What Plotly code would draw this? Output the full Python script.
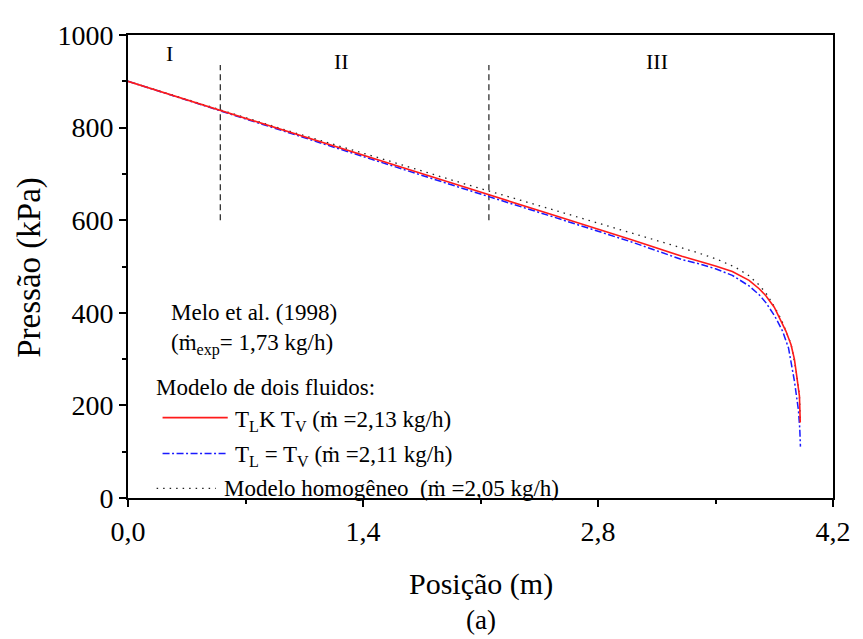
import plotly.graph_objects as go

# ---- data ----
x_red = [0.0, 0.55, 1.0, 1.5, 2.0, 2.5, 3.0, 3.3, 3.4, 3.5, 3.6, 3.7, 3.76, 3.8, 3.85, 3.89, 3.92, 3.95, 3.97, 3.98, 3.99, 4.0, 4.005]
y_red = [900, 837, 785, 728, 672, 615, 558, 522, 512, 501, 489, 470, 452, 437, 412, 383, 360, 331, 300, 274, 250, 220, 163]

x_blue = [0.0, 0.55, 1.0, 1.5, 2.0, 2.5, 3.0, 3.3, 3.4, 3.5, 3.6, 3.7, 3.76, 3.8, 3.853, 3.9, 3.935, 3.97, 3.985, 3.994, 4.002, 4.006]
y_blue = [900, 836, 783, 725, 668, 611, 553, 515, 506, 495, 481, 458, 439, 422, 393, 360, 324, 253, 215, 190, 150, 111]

x_dot = [0.0, 0.55, 1.0, 1.5, 2.0, 2.5, 3.0, 3.25, 3.365, 3.5, 3.62, 3.7, 3.76, 3.8, 3.85, 3.89, 3.95, 3.98, 4.0, 4.005]
y_dot = [900, 838, 788, 734, 679, 626, 573, 546, 533, 517, 498, 480, 460, 443, 414, 387, 333, 276, 222, 165]

boundary_x = [0.55, 2.15]
boundary_y = [600, 935]
region_labels = ["I", "II", "III"]
region_x = [0.25, 1.27, 3.15]
region_y = [960, 942, 942]

x_tickvals = [0.0, 1.4, 2.8, 4.2]
x_ticktext = ["0,0", "1,4", "2,8", "4,2"]
x_minor = [0.7, 2.1, 3.5]
y_tickvals = [0, 200, 400, 600, 800, 1000]
y_minor = [100, 300, 500, 700, 900]

FONT = "Liberation Serif, Times New Roman, serif"

fig = go.Figure()

for bx in boundary_x:
    fig.add_trace(go.Scatter(x=[bx, bx], y=boundary_y, mode="lines",
                             line=dict(color="#333333", width=1.3, dash="6px,4px"),
                             showlegend=False, hoverinfo="skip"))

fig.add_trace(go.Scatter(x=x_dot, y=y_dot, mode="lines",
                         line=dict(color="#222222", width=1.3, dash="1.5px,5px"),
                         showlegend=False))
fig.add_trace(go.Scatter(x=x_blue, y=y_blue, mode="lines",
                         line=dict(color="#1a1aff", width=1.5, dash="7px,2.5px,2px,2.5px"),
                         showlegend=False))
fig.add_trace(go.Scatter(x=x_red, y=y_red, mode="lines",
                         line=dict(color="#ff1a1a", width=1.6),
                         showlegend=False))

for lab, lx, ly in zip(region_labels, region_x, region_y):
    fig.add_annotation(x=lx, y=ly, text=lab, showarrow=False,
                       font=dict(family=FONT, size=22, color="black"))

# page offset: the browser body adds an 8px margin
OFF = 8
W, H = 863 - OFF, 639 - OFF
L, R, T, B = 128 - OFF, 21, 20 - OFF, 141
pw, ph = W - L - R, H - T - B

def px(x):
    return (x - OFF - L) / pw

def py(y):
    return (H - B - (y - OFF)) / ph

def txt(x, y, s, size=23, anchor="left"):
    fig.add_annotation(x=px(x), y=py(y), xref="paper", yref="paper", text=s,
                       showarrow=False, xanchor=anchor, yanchor="middle",
                       font=dict(family=FONT, size=size, color="black"))

txt(170, 307, "Melo et al. (1998)")
txt(170, 340, "(ṁ<sub>exp</sub>= 1,73 kg/h)")
txt(154, 384, "Modelo de dois fluidos:")
txt(234, 418, "T<sub>L</sub>K T<sub>V</sub> (ṁ =2,13 kg/h)")
txt(234, 455, "T<sub>L</sub> = T<sub>V</sub> (ṁ =2,11 kg/h)")
txt(223, 488, "Modelo homogêneo  (ṁ =2,05 kg/h)")

def keyline(x0, x1, y, color, width, dash):
    fig.add_shape(type="line", xref="paper", yref="paper",
                  x0=px(x0), x1=px(x1), y0=py(y), y1=py(y),
                  line=dict(color=color, width=width, dash=dash))

keyline(163, 229, 415, "#ff1a1a", 1.6, "solid")
keyline(163, 229, 452, "#1a1aff", 1.5, "7px,2.5px,2px,2.5px")
keyline(157, 217, 488, "#222222", 1.3, "1.5px,5px")

# axis titles
fig.add_annotation(x=px(28), y=py(260), xref="paper", yref="paper", text="Pressão (kPa)",
                   textangle=-90, showarrow=False, xanchor="center", yanchor="middle",
                   font=dict(family=FONT, size=33, color="black"))
fig.add_annotation(x=px(486), y=py(587), xref="paper", yref="paper", text="Posição (m)",
                   showarrow=False, xanchor="center", yanchor="middle",
                   font=dict(family=FONT, size=30, color="black"))
fig.add_annotation(x=px(486), y=py(624), xref="paper", yref="paper", text="(a)",
                   showarrow=False, xanchor="center", yanchor="middle",
                   font=dict(family=FONT, size=27, color="black"))

axis_common = dict(showgrid=False, zeroline=False, showline=True, linecolor="black",
                   linewidth=2, mirror=True, ticks="outside", tickcolor="black",
                   tickwidth=2, ticklen=7, ticklabeloverflow="allow",
                   tickfont=dict(family=FONT, size=28, color="black"))

fig.update_xaxes(range=[0, 4.2], tickmode="array", tickvals=x_tickvals, ticktext=x_ticktext,
                 minor=dict(tickmode="array", tickvals=x_minor, ticks="outside", ticklen=4,
                            tickwidth=2, tickcolor="black"),
                 **axis_common)
fig.update_yaxes(range=[0, 1000], tickmode="array", tickvals=y_tickvals,
                 minor=dict(tickmode="array", tickvals=y_minor, ticks="outside", ticklen=4,
                            tickwidth=2, tickcolor="black"),
                 **axis_common)

fig.update_layout(width=W, height=H, margin=dict(l=L, r=R, t=T, b=B),
                  plot_bgcolor="white", paper_bgcolor="white", showlegend=False)

fig.write_html("out.html")
